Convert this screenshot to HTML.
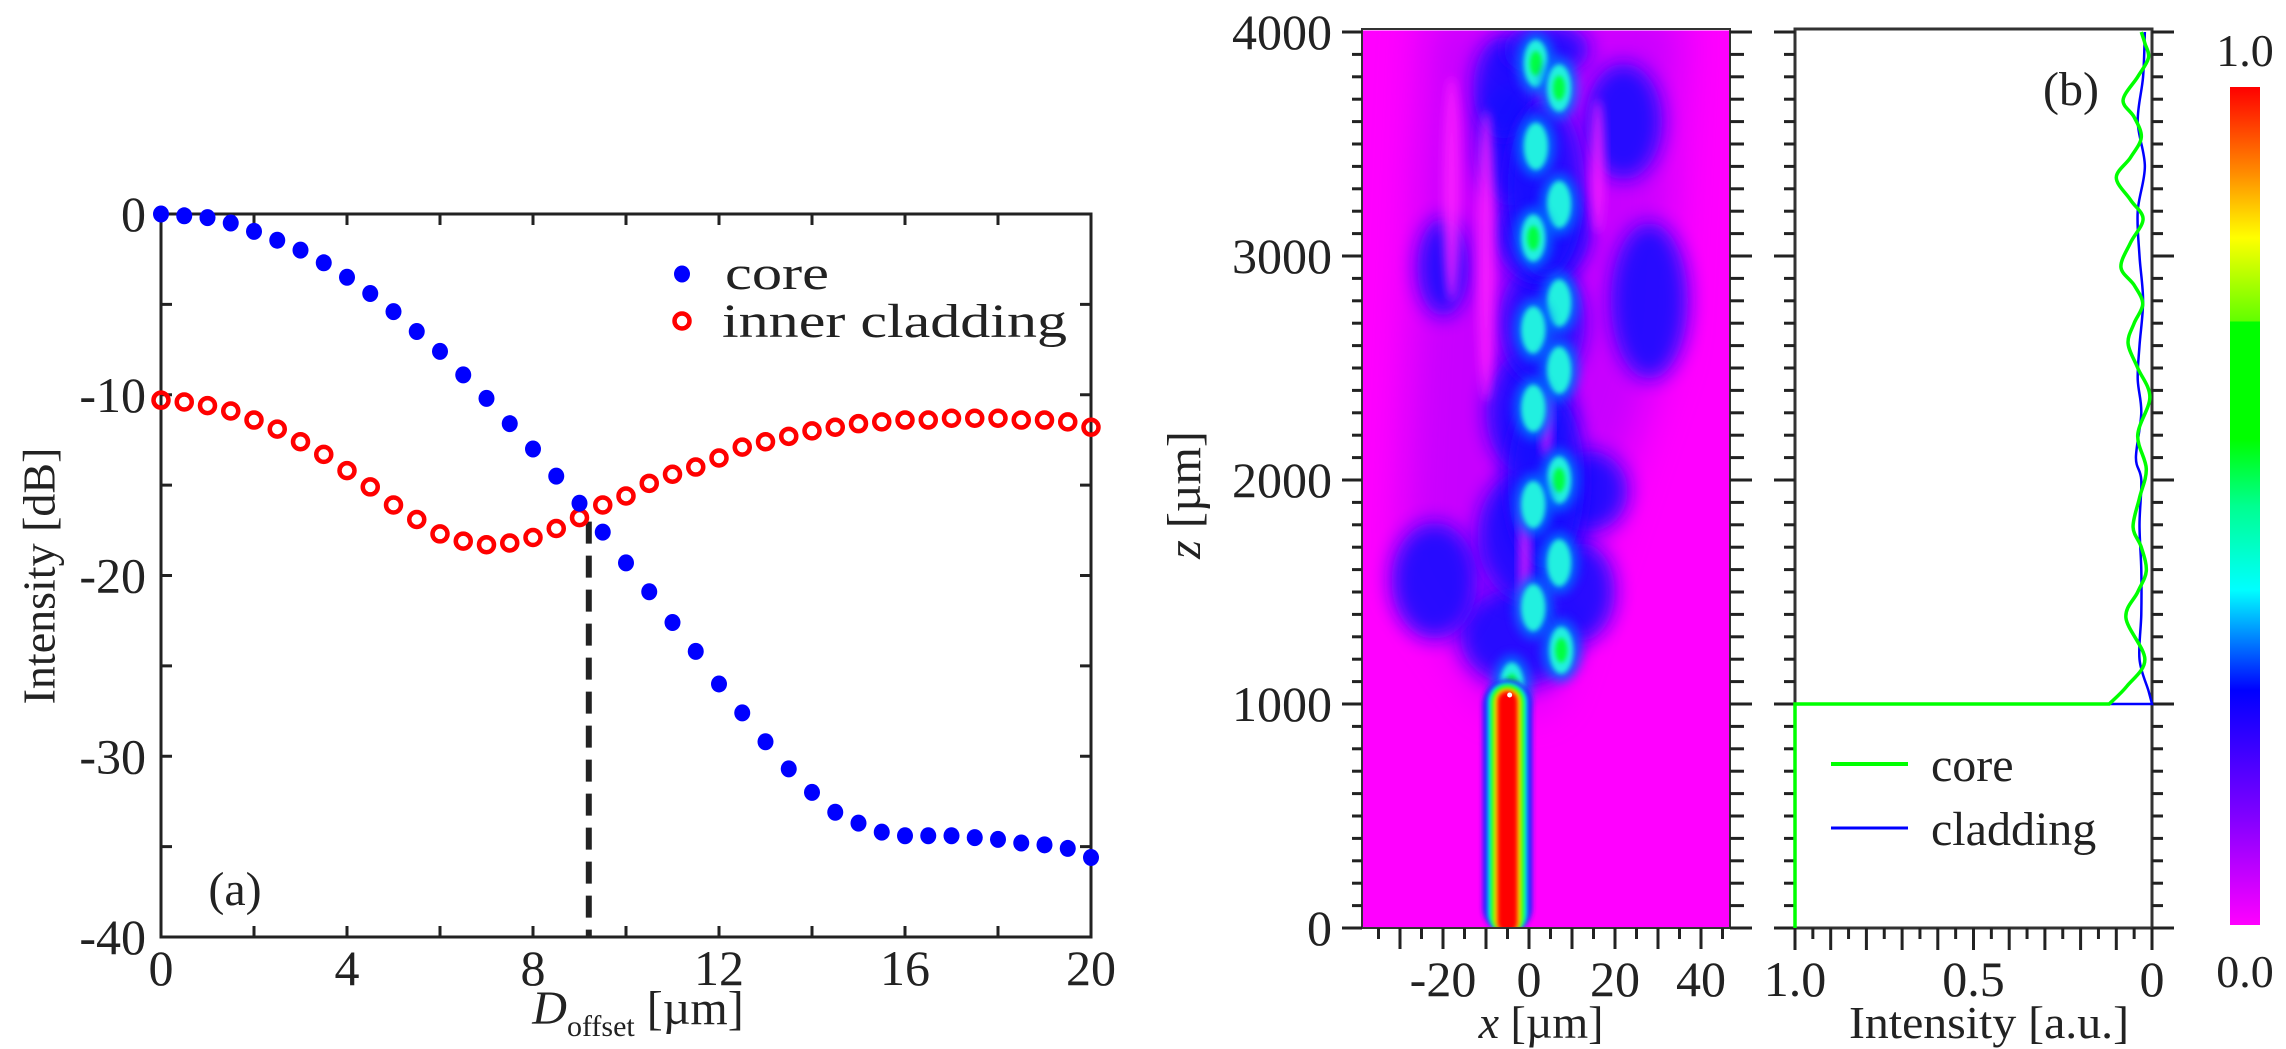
<!DOCTYPE html>
<html><head><meta charset="utf-8"><style>
html,body{margin:0;padding:0;background:#fff;}
svg{display:block;}
text{font-family:"Liberation Serif","DejaVu Serif",serif;fill:#222;}
</style></head><body>
<svg id="fig" width="2286" height="1049" viewBox="0 0 2286 1049" xmlns="http://www.w3.org/2000/svg" font-family="Liberation Serif, DejaVu Serif, serif">
<defs>
<filter id="blurXL" x="-50%" y="-50%" width="200%" height="200%"><feGaussianBlur stdDeviation="22"/></filter>
<filter id="blurL" x="-50%" y="-50%" width="200%" height="200%"><feGaussianBlur stdDeviation="10"/></filter>
<filter id="blurM" x="-50%" y="-50%" width="200%" height="200%"><feGaussianBlur stdDeviation="5"/></filter>
<filter id="blurS" x="-50%" y="-50%" width="200%" height="200%"><feGaussianBlur stdDeviation="2.5"/></filter>
<clipPath id="hmClip"><rect x="1362" y="29" width="368" height="899"/></clipPath>
<linearGradient id="cbGrad" x1="0" y1="1" x2="0" y2="0">
<stop offset="0" stop-color="#ff00ff"/><stop offset="0.13" stop-color="#8000ff"/><stop offset="0.28" stop-color="#0000ff"/>
<stop offset="0.40" stop-color="#00ffff"/><stop offset="0.50" stop-color="#00ff90"/><stop offset="0.58" stop-color="#00ff00"/>
<stop offset="0.72" stop-color="#00ff00"/><stop offset="0.72" stop-color="#60ff00"/><stop offset="0.82" stop-color="#ffff00"/>
<stop offset="0.90" stop-color="#ff8800"/><stop offset="1" stop-color="#ff0000"/>
</linearGradient>
</defs>
<g id="left"></g>
<g id="hm"></g>
<g id="rp"></g>
<g id="cb">
<rect x="2230" y="87" width="30" height="838" fill="url(#cbGrad)"/>
<text x="2245" y="66" font-size="46" text-anchor="middle">1.0</text>
<text x="2245" y="987" font-size="46" text-anchor="middle">0.0</text>
</g>
<text x="44" y="576" font-size="46" text-anchor="middle" transform="rotate(-90 44 576)" dominant-baseline="middle">Intensity [dB]</text>
<text x="638" y="1024" font-size="48" text-anchor="middle"><tspan font-style="italic">D</tspan><tspan font-size="30" dy="12">offset</tspan><tspan dy="-12"> [µm]</tspan></text>
<text x="235" y="905" font-size="48" text-anchor="middle">(a)</text>
<text x="725" y="289" font-size="48" textLength="104" lengthAdjust="spacingAndGlyphs">core</text>
<text x="722" y="337" font-size="48" textLength="345" lengthAdjust="spacingAndGlyphs">inner cladding</text>
<text x="1189" y="495" font-size="48" text-anchor="middle" transform="rotate(-90 1189 495)" dominant-baseline="middle"><tspan font-style="italic">z</tspan> [µm]</text>
<text x="1541" y="1038" font-size="46" text-anchor="middle"><tspan font-style="italic">x</tspan> [µm]</text>
<text x="1989" y="1038" font-size="46" text-anchor="middle" textLength="280" lengthAdjust="spacingAndGlyphs">Intensity [a.u.]</text>
<text x="2071" y="105" font-size="48" text-anchor="middle">(b)</text>
<text x="1931" y="781" font-size="48">core</text>
<text x="1931" y="845" font-size="48">cladding</text>
</svg>
<script>
// ---------- Panel (a) data ----------
const dOffset = [0,0.5,1,1.5,2,2.5,3,3.5,4,4.5,5,5.5,6,6.5,7,7.5,8,8.5,9,9.5,10,10.5,11,11.5,12,12.5,13,13.5,14,14.5,15,15.5,16,16.5,17,17.5,18,18.5,19,19.5,20];
const coreDB = [0,-0.1,-0.2,-0.5,-0.96,-1.45,-2.0,-2.7,-3.5,-4.4,-5.4,-6.5,-7.6,-8.9,-10.2,-11.6,-13.0,-14.5,-16.0,-17.6,-19.3,-20.9,-22.6,-24.2,-26.0,-27.6,-29.2,-30.7,-32.0,-33.1,-33.7,-34.2,-34.4,-34.4,-34.4,-34.5,-34.6,-34.8,-34.9,-35.1,-35.6];
const cladDB = [-10.3,-10.4,-10.6,-10.9,-11.4,-11.9,-12.6,-13.3,-14.2,-15.1,-16.1,-16.9,-17.7,-18.1,-18.3,-18.2,-17.9,-17.4,-16.8,-16.1,-15.6,-14.9,-14.4,-14.0,-13.5,-12.9,-12.6,-12.3,-12.0,-11.8,-11.6,-11.5,-11.4,-11.4,-11.3,-11.3,-11.3,-11.4,-11.4,-11.5,-11.8];
const xTicksA = [0,4,8,12,16,20];
const yTicksA = [0,-10,-20,-30,-40];
const crossingX = 9.2;
const crossingDB = -16.8;

// ---------- Heatmap data ----------
const hmXTicks = [-20,0,20,40];
const hmZTicks = [0,1000,2000,3000,4000];
const blobX = [1.6,7,1.6,7,1,7,1,7,1,7,1,7,1,7.5,-4];
const blobZ = [3860,3750,3490,3230,3080,2790,2670,2490,2320,2000,1890,1630,1430,1240,1080];
const blobLevel = [0.6,0.55,0.45,0.45,0.6,0.45,0.45,0.45,0.38,0.65,0.45,0.45,0.45,0.55,0.6];
const envX = [-2,-22,0,14,0,3,3,-4,-6,4,22,28,-20,12,4,4];
const envZ = [1300,1550,1750,1950,2300,2700,3100,3500,3750,3920,3600,2800,2950,1500,2000,3300];
const envRX = [14,10,12,9,10,10,11,8,7,10,9,9,6,8,9,9];
const envRZ = [220,260,300,180,280,280,230,280,230,120,260,350,220,220,400,400];

// ---------- Panel (b) data ----------
const coreZ = [1000,1080,1200,1384,1500,1594,1700,1790,1920,2050,2200,2370,2500,2610,2700,2786,2870,2950,3060,3165,3250,3350,3440,3530,3620,3696,3800,3884,3950,4000];
const coreI = [0.12,0.07,0.02,0.073,0.04,0.016,0.03,0.053,0.035,0.016,0.04,0.006,0.04,0.067,0.05,0.026,0.05,0.087,0.06,0.025,0.06,0.10,0.06,0.03,0.05,0.081,0.04,0.01,0.02,0.03];
const cladZ = [1000,1060,1200,1400,1600,1800,2000,2100,2300,2450,2600,2800,3000,3200,3400,3600,3800,4000];
const cladI = [0.0,0.01,0.035,0.03,0.03,0.035,0.03,0.045,0.03,0.04,0.035,0.025,0.035,0.04,0.02,0.04,0.025,0.02];
const rpXTicks = [1.0,0.5,0];

const NS = "http://www.w3.org/2000/svg";
function mk(parent, tag, attrs){const e=document.createElementNS(NS,tag);for(const k in attrs)e.setAttribute(k,attrs[k]);parent.appendChild(e);return e;}

// ===== Panel (a) =====
const A = {x0:161,x1:1091,y0:214,y1:937};
const ax = v => A.x0 + (v-0)/(20-0)*(A.x1-A.x0);
const ay = v => A.y0 + (0-v)/(0-(-40))*(A.y1-A.y0);
const L = document.getElementById('left');
let e;
for(let v=2; v<20; v+=2){
  e=mk(L,'line',{x1:ax(v),x2:ax(v),y1:A.y1,y2:A.y1-11,stroke:'#222','stroke-width':3});
   
  e=mk(L,'line',{x1:ax(v),x2:ax(v),y1:A.y0,y2:A.y0+11,stroke:'#222','stroke-width':3});
   
}
for(let v=-35; v<0; v+=5){
  e=mk(L,'line',{x1:A.x0,x2:A.x0+11,y1:ay(v),y2:ay(v),stroke:'#222','stroke-width':3});
   
  e=mk(L,'line',{x1:A.x1,x2:A.x1-11,y1:ay(v),y2:ay(v),stroke:'#222','stroke-width':3});
   
}
xTicksA.forEach(v=>{
  e=mk(L,'text',{x:ax(v),y:985,'font-size':50,'text-anchor':'middle'}); e.textContent=v;
   
});
yTicksA.forEach(v=>{
  e=mk(L,'text',{x:146,y:ay(v)+17,'font-size':50,'text-anchor':'end'}); e.textContent=v;
   
});
e=mk(L,'line',{x1:ax(crossingX),x2:ax(crossingX),y1:ay(crossingDB)+4,y2:A.y1,stroke:'#222','stroke-width':6,'stroke-dasharray':'22 12'});
 
e=mk(L,'rect',{x:A.x0,y:A.y0,width:A.x1-A.x0,height:A.y1-A.y0,fill:'none',stroke:'#222','stroke-width':3});
 
const gClad = mk(L,'g',{});  
dOffset.forEach((d,i)=>{
  e=mk(gClad,'circle',{cx:ax(d),cy:ay(cladDB[i]),r:7.5,fill:'none',stroke:'#ff0000','stroke-width':4.5});
   
});
const gCore = mk(L,'g',{});  
dOffset.forEach((d,i)=>{
  e=mk(gCore,'ellipse',{cx:ax(d),cy:ay(coreDB[i]),rx:8,ry:8.5,fill:'#0000ff'});
   
});
e=mk(L,'ellipse',{cx:682,cy:274,rx:8,ry:8.5,fill:'#0000ff'});
 
e=mk(L,'circle',{cx:682,cy:321,r:7.5,fill:'none',stroke:'#ff0000','stroke-width':4.5});
 

// ===== Heatmap =====
const HX = x => 1529 + 4.3*x;
const HZ = z => 928 - 0.224*z;
const H = document.getElementById('hm');
const hc = mk(H,'g',{'clip-path':'url(#hmClip)'});
 
mk(hc,'rect',{x:1362,y:29,width:368,height:899,fill:'#ff00ff'});
mk(hc,'polygon',{points:`${HX(-8)},${HZ(1000)} ${HX(4)},${HZ(1000)} ${HX(32)},${HZ(2600)} ${HX(36)},${HZ(4100)} ${HX(-24)},${HZ(4100)} ${HX(-30)},${HZ(1600)}`,fill:'#9000ff',opacity:0.5,filter:'url(#blurXL)'});
envX.forEach((x,i)=>{
  e=mk(hc,'ellipse',{cx:HX(x),cy:HZ(envZ[i]),rx:envRX[i]*4.3,ry:envRZ[i]*0.224,fill:'#1808ff',opacity:0.9,filter:'url(#blurL)'});
   
});
[[-10,3000,2,650],[4,2250,1.2,150],[-1,1650,1.2,300],[-18,3300,2,500],[16,3400,1.5,300]].forEach(s=>{
  mk(hc,'ellipse',{cx:HX(s[0]),cy:HZ(s[1]),rx:s[2]*4.3,ry:s[3]*0.224,fill:'#ff20ff',opacity:0.8,filter:'url(#blurM)'});
});
blobX.forEach((x,i)=>{
  const lv = blobLevel[i];
  e=mk(hc,'ellipse',{cx:HX(x),cy:HZ(blobZ[i]),rx:4.5*4.3,ry:140*0.224,fill:'#0070ff',opacity:0.85,filter:'url(#blurM)'});
   
  mk(hc,'ellipse',{cx:HX(x),cy:HZ(blobZ[i]),rx:2.8*4.3,ry:105*0.224,fill:'#20f0e0',filter:'url(#blurS)'});
  if(lv>0.5) mk(hc,'ellipse',{cx:HX(x),cy:HZ(blobZ[i]),rx:1.4*4.3,ry:55*0.224,fill:'#00ff40',filter:'url(#blurS)'});
});
const coreBand = mk(hc,'g',{});  
[['#2020ff',-10.8,0.8,1110],['#00ffff',-9.5,-0.5,1095],['#00ff00',-8.8,-1.2,1085],['#ffff00',-8.2,-1.8,1072],['#ff0000',-7.4,-2.6,1060]].forEach(b=>{
  mk(coreBand,'rect',{x:HX(b[1]),y:HZ(b[3]),width:HX(b[2])-HX(b[1]),height:HZ(0)-HZ(b[3])+5,rx:(HX(b[2])-HX(b[1]))/2,fill:b[0],filter:'url(#blurS)'});
});
mk(coreBand,'circle',{cx:HX(-4.5),cy:HZ(1040),r:2.5,fill:'#fff'});
mk(H,'line',{x1:1362,x2:1730,y1:29,y2:29,stroke:'#fff','stroke-width':3});
mk(H,'rect',{x:1362,y:29,width:368,height:899,fill:'none',stroke:'#333','stroke-width':2});
for(let z=0; z<=4000; z+=100){
  const maj = z%1000===0;
  e=mk(H,'line',{x1:1362-(maj?20:10),x2:1362,y1:HZ(z),y2:HZ(z),stroke:'#222','stroke-width':3});
   
  e=mk(H,'line',{x1:1730,x2:1730+(maj?22:14),y1:HZ(z),y2:HZ(z),stroke:'#222','stroke-width':3});
   
}
for(let x=-35; x<=45; x+=5){
  const maj = x%10===0;
  e=mk(H,'line',{x1:HX(x),x2:HX(x),y1:928,y2:928+(maj?21:11),stroke:'#222','stroke-width':3});
   
}
hmXTicks.forEach(v=>{
  e=mk(H,'text',{x:HX(v),y:996,'font-size':50,'text-anchor':'middle'}); e.textContent=v;
   
});
hmZTicks.forEach(v=>{
  e=mk(H,'text',{x:1332,y:HZ(v)+17,'font-size':50,'text-anchor':'end'}); e.textContent=v;
   
});

// ===== Panel (b) =====
const RX = I => 2152 - 357*I;
const R = document.getElementById('rp');
mk(R,'rect',{x:1795,y:29,width:357,height:899,fill:'none',stroke:'#333','stroke-width':3});
for(let z=0; z<=4000; z+=100){
  const maj = z%1000===0;
  e=mk(R,'line',{x1:1795-(maj?21:11),x2:1795,y1:HZ(z),y2:HZ(z),stroke:'#222','stroke-width':3});
   
  e=mk(R,'line',{x1:2152,x2:2152+(maj?22:11),y1:HZ(z),y2:HZ(z),stroke:'#222','stroke-width':3});
   
}
for(let k=0; k<=20; k++){
  const I = k*0.05, maj = k%2===0;
  e=mk(R,'line',{x1:RX(I),x2:RX(I),y1:928,y2:928+(maj?22:11),stroke:'#222','stroke-width':3});
   
}
rpXTicks.forEach(v=>{
  e=mk(R,'text',{x:RX(v),y:996,'font-size':50,'text-anchor':'middle'}); e.textContent=(v===0?'0':v.toFixed(1));
   
});
function smooth(pts){
  let d=`M${pts[0][0]},${pts[0][1]}`;
  for(let i=0;i<pts.length-1;i++){
    const p0=pts[Math.max(0,i-1)],p1=pts[i],p2=pts[i+1],p3=pts[Math.min(pts.length-1,i+2)];
    const c1=[p1[0]+(p2[0]-p0[0])/6,p1[1]+(p2[1]-p0[1])/6];
    const c2=[p2[0]-(p3[0]-p1[0])/6,p2[1]-(p3[1]-p1[1])/6];
    d+=` C${c1[0]},${c1[1]} ${c2[0]},${c2[1]} ${p2[0]},${p2[1]}`;
  }
  return d;
}
const cladPts = cladZ.map((z,i)=>[RX(cladI[i]),HZ(z)]);
e=mk(R,'path',{d:`M${RX(coreI[0])},${HZ(1000)} L${RX(0)},${HZ(1000)} `+smooth(cladPts).replace('M','L'),fill:'none',stroke:'#0000ff','stroke-width':2.5});
 
const corePts = coreZ.map((z,i)=>[RX(coreI[i]),HZ(z)]);
e=mk(R,'path',{d:`M${RX(1)},${HZ(0)} L${RX(1)},${HZ(1000)} L${RX(coreI[0])},${HZ(1000)} `+smooth(corePts).replace('M','L'),fill:'none',stroke:'#00ff00','stroke-width':3.5});
 
e=mk(R,'line',{x1:1831,x2:1908,y1:764,y2:764,stroke:'#00ff00','stroke-width':4});
 
e=mk(R,'line',{x1:1831,x2:1908,y1:828,y2:828,stroke:'#0000ff','stroke-width':3});
 
</script>
</body></html>
